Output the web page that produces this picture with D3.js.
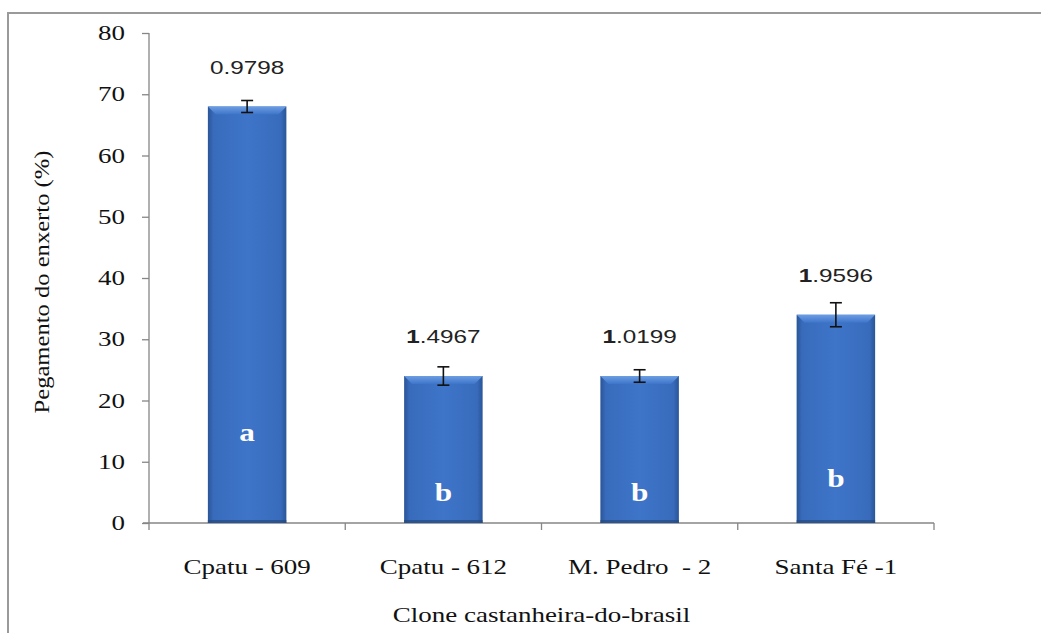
<!DOCTYPE html>
<html><head><meta charset="utf-8">
<script src="https://cdn.jsdelivr.net/npm/d3@7"></script>
<style>html,body{margin:0;padding:0;background:#fff;}svg{display:block;}</style>
</head><body>
<script>
const categories = ["Cpatu - 609", "Cpatu - 612", "M. Pedro  - 2", "Santa Fé -1"];
const values = [68.0, 24.0, 24.0, 34.0];
const errors = [0.9798, 1.4967, 1.0199, 1.9596];
const errorLabels = ["0.9798", "1.4967", "1.0199", "1.9596"];
const letters = ["a", "b", "b", "b"];
const yTicks = [0, 10, 20, 30, 40, 50, 60, 70, 80];

const W = 1041, H = 633;
const SX = 1.35; // horizontal text stretch seen in the reference
const svg = d3.select("body").append("svg").attr("width", W).attr("height", H);

// outer frame (right/bottom off-canvas)
svg.append("rect").attr("x", 8).attr("y", 13).attr("width", 1100).attr("height", 700)
  .attr("fill", "#fff").attr("stroke", "#9a9a9a").attr("stroke-width", 2);

const x0 = 149, x1 = 934, yTop = 33, yBot = 523;
const x = d3.scaleBand().domain(categories).range([x0, x1]).paddingInner(0.6).paddingOuter(0.3);
const y = d3.scaleLinear().domain([0, 80]).range([yBot, yTop]);

const defs = svg.append("defs");
const g1 = defs.append("linearGradient").attr("id", "barH").attr("x1", 0).attr("x2", 1).attr("y1", 0).attr("y2", 0);
[[0, "#2a5597"], [0.07, "#386bbb"], [0.5, "#3e75c9"], [0.93, "#386bbb"], [1, "#2a5597"]]
  .forEach(([o, c]) => g1.append("stop").attr("offset", o).attr("stop-color", c));
const g2 = defs.append("linearGradient").attr("id", "barTop").attr("x1", 0).attr("x2", 0).attr("y1", 0).attr("y2", 1);
[[0, "#6d9ee3"], [1, "#3e75c9"]].forEach(([o, c]) => g2.append("stop").attr("offset", o).attr("stop-color", c));

function stretchedText(sel, tx, ty, sx) {
  return sel.attr("transform", `translate(${tx},${ty}) scale(${sx},1)`);
}

// Axes
const axisColor = "#868686";
const yAxis = svg.append("g").attr("transform", `translate(${x0},0)`)
  .call(d3.axisLeft(y).tickValues(yTicks).tickSize(7).tickFormat(""));
yAxis.selectAll("path,line").attr("stroke", axisColor).attr("stroke-width", 1.3);
yAxis.select(".domain").attr("d", `M0,${yTop}V${yBot}`);

svg.selectAll(".ytl").data(yTicks).join("text").attr("class", "ytl")
  .each(function(d) { stretchedText(d3.select(this), 125, y(d) + 7, SX); })
  .attr("text-anchor", "end").attr("font-family", "Liberation Serif").attr("font-size", 20)
  .attr("fill", "#111").text(d => d);

const xAxis = svg.append("g").attr("transform", `translate(0,${yBot})`);
xAxis.append("line").attr("x1", x0 - 6).attr("x2", x1).attr("y1", 0).attr("y2", 0)
  .attr("stroke", axisColor).attr("stroke-width", 1.3);
const bounds = categories.map(c => x(c) - x.step() * 0.3).concat([x1]);
xAxis.selectAll(".xt").data(bounds).join("line").attr("class", "xt")
  .attr("x1", d => d).attr("x2", d => d).attr("y1", 0).attr("y2", 7)
  .attr("stroke", axisColor).attr("stroke-width", 1.3);

// Bars
const bw = x.bandwidth();
const bars = svg.append("g").selectAll("g").data(categories).join("g");
bars.append("rect").attr("x", c => x(c)).attr("y", (c, i) => y(values[i]))
  .attr("width", bw).attr("height", (c, i) => yBot - y(values[i])).attr("fill", "url(#barH)");
bars.append("path").attr("d", (c, i) => {
  const l = x(c), t = y(values[i]), b = 8;
  return `M${l},${t}H${l + bw}L${l + bw - b},${t + b}H${l + b}Z`;
}).attr("fill", "url(#barTop)");
bars.append("rect").attr("x", c => x(c)).attr("y", yBot - 3).attr("width", bw).attr("height", 3)
  .attr("fill", "#24497f").attr("opacity", 0.7);

// Error bars
const eb = svg.append("g").attr("stroke", "#111").attr("stroke-width", 1.6);
categories.forEach((c, i) => {
  const cx = x(c) + bw / 2, hi = y(values[i] + errors[i]), lo = y(values[i] - errors[i]);
  eb.append("line").attr("x1", cx).attr("x2", cx).attr("y1", hi).attr("y2", lo);
  eb.append("line").attr("x1", cx - 6).attr("x2", cx + 6).attr("y1", hi).attr("y2", hi);
  eb.append("line").attr("x1", cx - 6).attr("x2", cx + 6).attr("y1", lo).attr("y2", lo);
});

// Value labels
categories.forEach((c, i) => {
  const cx = x(c) + bw / 2;
  const t = svg.append("text").attr("text-anchor", "middle").attr("font-family", "Liberation Sans")
    .attr("font-size", 18).attr("fill", "#222");
  stretchedText(t, cx, y(values[i] + 6.5) + 7, SX);
  const s = errorLabels[i];
  if (s[0] === "1") {
    t.append("tspan").attr("font-weight", "bold").text("1");
    t.append("tspan").text(s.slice(1));
  } else t.text(s);
});

// Letters inside bars
categories.forEach((c, i) => {
  const cx = x(c) + bw / 2;
  const t = svg.append("text").attr("text-anchor", "middle").attr("font-family", "Liberation Serif")
    .attr("font-weight", "bold").attr("font-size", 25).attr("fill", "#fff").text(letters[i]);
  stretchedText(t, cx, y(values[i] * 0.22) + 10, 1.25);
});

// Category labels
categories.forEach((c, i) => {
  const t = svg.append("text").attr("text-anchor", "middle").attr("font-family", "Liberation Serif")
    .attr("font-size", 20).attr("fill", "#111").attr("xml:space", "preserve").text(c);
  stretchedText(t, x(c) + bw / 2, 574, SX);
});

// Axis titles
stretchedText(svg.append("text"), (x0 + x1) / 2, 622, SX)
  .attr("text-anchor", "middle").attr("font-family", "Liberation Serif").attr("font-size", 20)
  .attr("fill", "#111").text("Clone castanheira-do-brasil");
svg.append("text").attr("transform", `translate(49,282) rotate(-90) scale(1.23,1)`)
  .attr("text-anchor", "middle").attr("font-family", "Liberation Serif").attr("font-size", 20)
  .attr("fill", "#111").text("Pegamento do enxerto (%)");
</script>
</body></html>
